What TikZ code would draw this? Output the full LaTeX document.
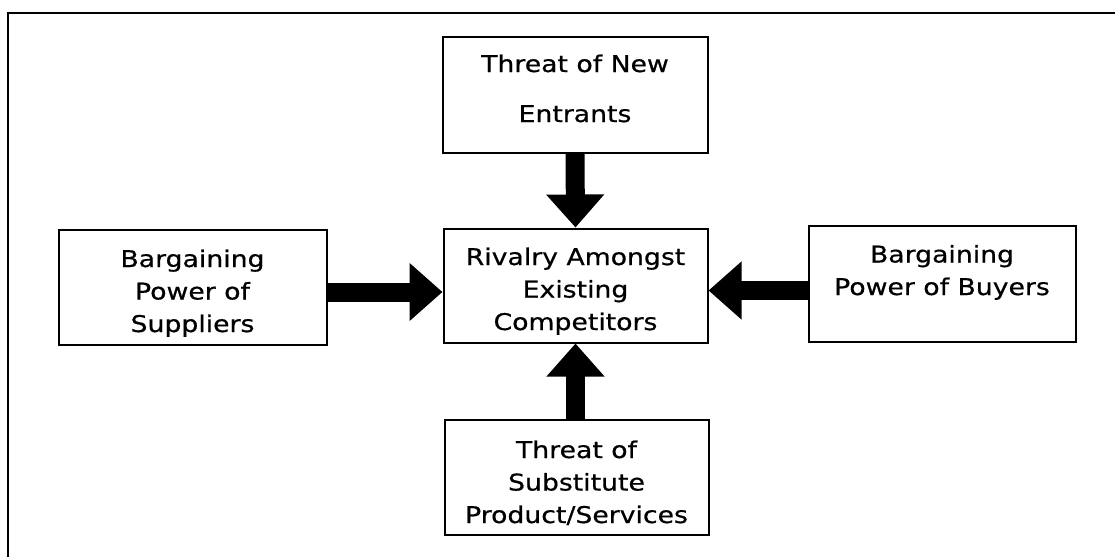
\documentclass[tikz,border=0pt]{standalone}
\usepackage{fontspec}
\setmainfont{DejaVu Sans}[FakeStretch=1.16,FakeBold=0.6]
\usetikzlibrary{arrows.meta}
\begin{document}
\begin{tikzpicture}[x=1pt,y=-1pt,
  box/.style={draw=black, line width=2pt, align=center, inner sep=0pt,
    font=\fontsize{23}{32.5}\selectfont, text depth=0pt},
  blk/.style={draw=black, line width=19pt, -{Triangle[length=33pt,width=56pt]}},
  frame/.style={draw=black, line width=2.2pt}]
\useasboundingbox (0,0) rectangle (1115,557);
\draw[frame] (8,557) -- (8,13) -- (1115,13);
\node[box, minimum width=265pt, minimum height=116pt, text height=55pt,
  font=\fontsize{23}{50}\selectfont] (new) at (575,94.5) {Threat of New\\Entrants};
\node[box, minimum width=264pt, minimum height=114pt, text height=89pt]
  (riv) at (575.5,285.5) {Rivalry Amongst\\Existing\\Competitors};
\node[box, minimum width=268pt, minimum height=115pt, text height=90pt]
  (sup) at (192.5,287) {Bargaining\\Power of\\Suppliers};
\node[box, minimum width=267pt, minimum height=116pt, text height=23pt]
  (buy) at (942,283.5) {Bargaining\\Power of Buyers};
\node[box, minimum width=264pt, minimum height=115pt, text height=92pt]
  (sub) at (576.5,477) {Threat of\\Substitute\\Product/Services};
\draw[blk] (new.south) -- (riv.north);
\draw[blk] (sup.east |- 0,292) -- (riv.west |- 0,292);
\draw[blk] (buy.west |- 0,290.5) -- (riv.east |- 0,290.5);
\draw[blk] (riv.south |- sub.north) -- (riv.south);
\end{tikzpicture}
\end{document}
